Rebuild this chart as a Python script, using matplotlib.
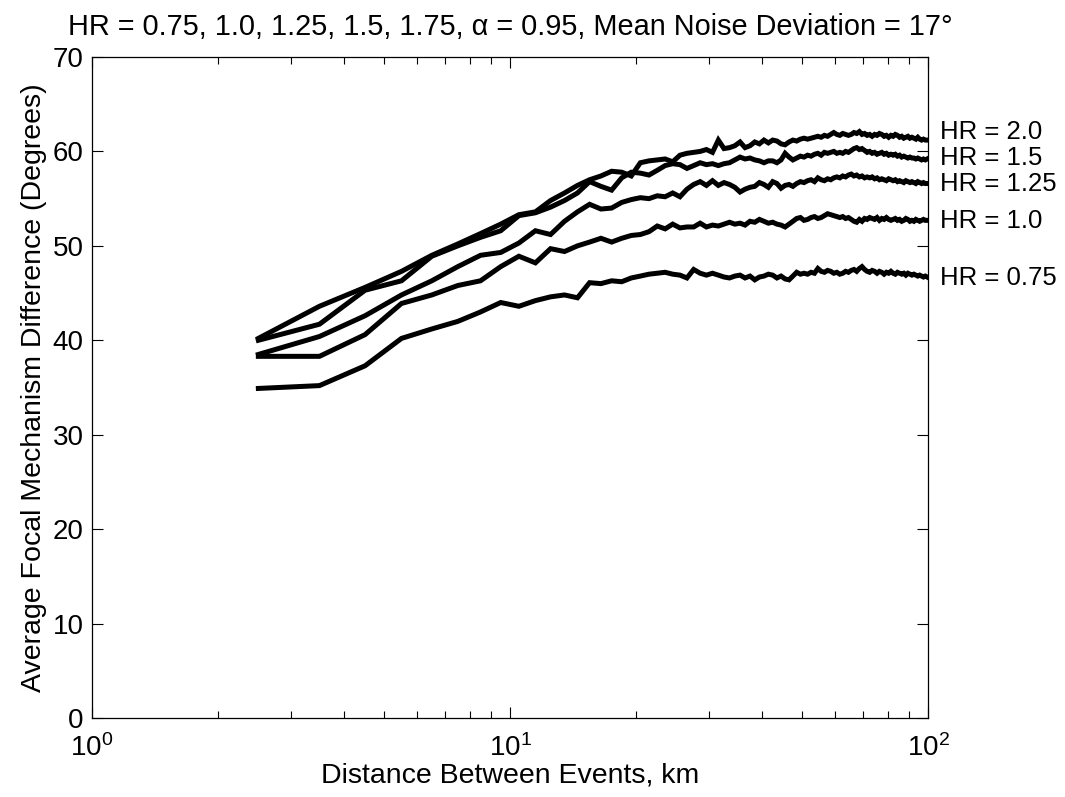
"""Average focal mechanism difference vs. event distance for several HR values."""

import numpy as np
import matplotlib
matplotlib.use('Agg')
import matplotlib.pyplot as plt
from matplotlib.ticker import LogLocator, NullFormatter

plt.rcParams['font.family'] = ['Liberation Sans', 'DejaVu Sans']
plt.rcParams['mathtext.fontset'] = 'custom'
plt.rcParams['mathtext.rm'] = 'Liberation Sans'
plt.rcParams['mathtext.it'] = 'Liberation Sans:italic'

# Distance bins (km): centres 2.5, 3.5, ... 99.5
DIST_KM = np.arange(2.5, 100.0, 1.0)

HR_075 = [34.9, 35.2, 37.3, 40.2, 41.2, 42.0, 43.0, 44.0, 43.6, 44.2,
          44.6, 44.8, 44.5, 46.1, 46.0, 46.3, 46.2, 46.6, 46.8, 47.0,
          47.1, 47.2, 47.0, 46.9, 46.6, 47.5, 47.1, 46.9, 47.1, 46.9,
          46.7, 46.6, 46.8, 46.9, 46.6, 46.8, 46.4, 46.7, 46.8, 47.0,
          46.9, 46.6, 46.8, 46.5, 46.4, 46.8, 47.2, 47.0, 47.1, 47.0,
          47.2, 47.1, 47.6, 47.3, 47.2, 47.4, 47.3, 47.1, 47.2, 47.0,
          47.1, 47.3, 47.2, 47.4, 47.5, 47.3, 47.6, 47.8, 47.5, 47.3,
          47.2, 47.4, 47.3, 47.1, 47.3, 47.2, 47.0, 47.2, 47.1, 47.3,
          47.1, 47.0, 47.2, 47.1, 47.0, 47.1, 46.9, 47.1, 47.0, 46.9,
          47.0, 46.9, 46.8, 46.9, 46.8, 46.7, 46.8, 46.7]

HR_100 = [38.3, 38.3, 40.6, 43.9, 44.8, 45.8, 46.3, 47.8, 48.9, 48.2,
          49.7, 49.4, 50.0, 50.4, 50.8, 50.4, 50.8, 51.1, 51.2, 51.5,
          52.1, 51.8, 52.3, 51.9, 52.0, 52.0, 52.4, 52.0, 52.2, 52.1,
          52.3, 52.5, 52.3, 52.4, 52.2, 52.6, 52.5, 52.8, 52.6, 52.4,
          52.5, 52.3, 52.2, 52.0, 52.3, 52.6, 52.9, 53.0, 52.7, 52.8,
          53.0, 53.1, 52.9, 53.0, 53.2, 53.4, 53.3, 53.2, 53.1, 53.0,
          53.1, 52.9, 53.0, 52.8, 52.6, 52.5, 52.8, 52.6, 52.9, 52.8,
          53.0, 52.9, 52.8, 53.0, 52.7, 52.9, 52.8, 53.0, 52.8, 52.7,
          52.8, 52.9, 52.7, 52.8, 52.6, 52.7, 52.9, 52.8, 52.6, 52.7,
          52.6, 52.8, 52.7, 52.6, 52.7, 52.8, 52.7, 52.7]

HR_125 = [38.5, 40.4, 42.6, 44.8, 46.3, 47.8, 49.0, 49.3, 50.3, 51.6,
          51.2, 52.6, 53.6, 54.4, 53.9, 54.0, 54.6, 54.9, 55.1, 55.0,
          55.3, 55.2, 55.6, 55.2, 56.0, 56.5, 56.8, 56.4, 56.9, 56.4,
          56.7, 56.5, 56.2, 55.7, 56.0, 56.2, 56.3, 56.7, 56.5, 56.2,
          56.8, 56.6, 56.1, 56.4, 56.5, 56.3, 56.6, 56.8, 56.7, 56.9,
          57.0, 56.8, 57.2, 57.0, 56.9, 57.1, 57.0, 57.2, 57.3, 57.2,
          57.4, 57.3, 57.5, 57.6, 57.4, 57.5, 57.3, 57.4, 57.2, 57.3,
          57.2, 57.3, 57.1, 57.2, 57.0, 57.1, 57.0, 56.9, 57.1, 57.0,
          56.9, 57.0, 56.8, 56.9, 56.8, 56.7, 56.9, 56.8, 56.7, 56.8,
          56.7, 56.6, 56.8, 56.7, 56.6, 56.7, 56.6, 56.6]

HR_150 = [40.0, 41.7, 45.3, 46.3, 48.9, 50.0, 50.9, 51.6, 53.2, 53.5,
          54.1, 54.8, 55.6, 56.8, 56.3, 55.9, 57.2, 57.8, 57.7, 57.5,
          58.0, 58.5, 58.7, 58.6, 58.2, 58.5, 58.8, 58.6, 58.7, 58.5,
          58.7, 58.8, 59.1, 59.4, 59.2, 59.3, 59.1, 59.0, 58.8, 59.0,
          59.0, 58.8, 59.1, 59.8, 59.4, 59.1, 59.3, 59.5, 59.4, 59.6,
          59.5, 59.7, 59.8, 59.6, 59.9, 59.8, 59.9, 60.0, 59.8, 59.9,
          59.8, 60.0, 59.9, 60.1, 60.3, 60.4, 60.2, 60.3, 60.1, 59.9,
          60.0, 59.8, 59.9, 59.7, 59.8, 59.9, 59.7, 59.8, 59.6, 59.7,
          59.6, 59.7, 59.5, 59.6, 59.4, 59.5, 59.4, 59.3, 59.4, 59.3,
          59.3, 59.2, 59.3, 59.2, 59.1, 59.2, 59.1, 59.2]

HR_200 = [40.2, 43.6, 45.6, 47.3, 49.0, 50.2, 51.3, 52.3, 53.3, 53.6,
          54.8, 55.6, 56.4, 57.0, 57.4, 57.9, 57.8, 57.4, 58.8, 59.0,
          59.1, 59.2, 58.9, 59.6, 59.8, 59.9, 60.0, 60.2, 59.9, 61.2,
          60.3, 60.4, 60.6, 61.0, 60.4, 60.6, 61.0, 60.8, 61.2, 60.9,
          61.2, 61.1, 60.8, 60.7, 61.0, 61.2, 61.1, 61.3, 61.4, 61.3,
          61.4, 61.5, 61.6, 61.5, 61.7, 61.6, 61.8, 62.0, 61.8, 61.7,
          61.9, 61.8, 61.7, 61.8, 62.0, 61.9, 62.1, 61.8, 61.9, 61.7,
          61.8, 61.6, 61.8, 61.7, 61.9, 61.8, 61.6, 61.7, 61.5, 61.7,
          61.6, 61.8, 61.7, 61.5, 61.6, 61.4, 61.5, 61.6, 61.4, 61.5,
          61.4, 61.3, 61.5, 61.3, 61.2, 61.3, 61.2, 61.2]

SERIES = [HR_075, HR_100, HR_125, HR_150, HR_200]
LABELS = ['HR = 0.75', 'HR = 1.0', 'HR = 1.25', 'HR = 1.5', 'HR = 2.0']
LABEL_Y = [46.6, 52.6, 56.5, 59.35, 62.1]

TITLE = 'HR = 0.75, 1.0, 1.25, 1.5, 1.75, α = 0.95, Mean Noise Deviation = 17°'

fig = plt.figure(figsize=(10.65, 7.97), dpi=100)
ax = fig.add_axes([0.0864, 0.0991, 0.7850, 0.8294])

for ys in SERIES:
    ax.plot(DIST_KM, ys, color='black', lw=3.6, solid_joinstyle='miter')

ax.set_xscale('log')
ax.set_xlim(1, 100)
ax.set_ylim(0, 70)
ax.set_yticks(range(0, 71, 10))
ax.xaxis.set_major_locator(LogLocator(base=10))
ax.xaxis.set_minor_locator(LogLocator(base=10, subs=np.arange(2, 10)))
ax.xaxis.set_minor_formatter(NullFormatter())

ax.tick_params(which='both', direction='in', top=True, right=True,
               labelsize=20, width=0.8, colors='black')
ax.tick_params(which='major', length=8)
ax.tick_params(axis='x', which='major', pad=12)
ax.tick_params(axis='y', which='major', pad=6)
ax.tick_params(which='minor', length=5)
for s in ax.spines.values():
    s.set_linewidth(0.9)

ax.set_xlabel('Distance Between Events, km', fontsize=20.5, labelpad=0)
ax.set_ylabel('Average Focal Mechanism Difference (Degrees)', fontsize=20.5,
              labelpad=4)
ax.set_title(TITLE, fontsize=20.8, pad=16)

for lab, ly in zip(LABELS, LABEL_Y):
    ax.text(1.014, ly, lab, transform=ax.get_yaxis_transform(),
            fontsize=18.5, va='center', ha='left', clip_on=False)

fig.savefig('out.png', dpi=100)
